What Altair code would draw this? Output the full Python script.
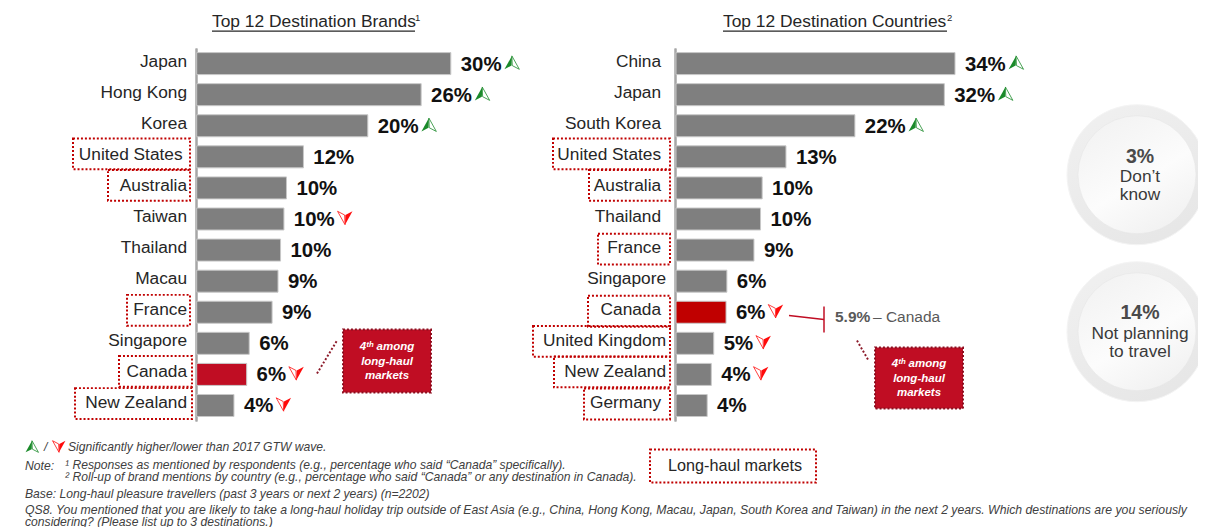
import altair as alt
import pandas as pd

# ---------- data ----------
brand_names = ["Japan", "Hong Kong", "Korea", "United States", "Australia", "Taiwan",
               "Thailand", "Macau", "France", "Singapore", "Canada", "New Zealand"]
brand_values = [30.0, 26.5, 20.2, 12.6, 10.6, 10.3, 9.9, 9.6, 8.9, 6.2, 5.9, 4.4]
brand_labels = ["30%", "26%", "20%", "12%", "10%", "10%", "10%", "9%", "9%", "6%", "6%", "4%"]
brand_trend = ["up", "up", "up", "", "", "down", "", "", "", "", "down", "down"]

country_names = ["China", "Japan", "South Korea", "United States", "Australia", "Thailand",
                 "France", "Singapore", "Canada", "United Kingdom", "New Zealand", "Germany"]
country_values = [34.0, 32.7, 21.8, 13.4, 10.5, 10.3, 9.5, 6.2, 6.1, 4.6, 4.3, 3.8]
country_labels = ["34%", "32%", "22%", "13%", "10%", "10%", "9%", "6%", "6%", "5%", "4%", "4%"]
country_trend = ["up", "up", "up", "", "", "", "", "", "down", "down", "down", ""]

FONT = "Liberation Sans"
GREY = "#7f7f7f"
DOTS = "#c00000"
# The page shrinks an SVG wider than 1190px to fit; K undoes that so that the
# picture reaches the right edge of the window.
K = 1198 / 1190
W, H = 1198, 522.5
layers = []


def PX(v):
    return (v - 8) * K


def PY(v):
    return (v - 9.2) * K


def frame(names, values, labels, trend):
    return pd.DataFrame({"cat": names, "val": values, "lab": labels, "trend": trend})


def note(text, x, y, size=11, color="#404040", align="left", **kw):
    return alt.Chart(alt.Data(values=[{"t": text}])).mark_text(
        font=FONT, fontSize=size * K, color=color, align=align, baseline="middle", **kw
    ).encode(x=alt.value(PX(x)), y=alt.value(PY(y)), text="t:N")


def seg(x1, y1, x2, y2, color, width=1.5, dash=None):
    kw = {"strokeDash": dash} if dash else {}
    return alt.Chart(alt.Data(values=[{"a": 0}])).mark_rule(color=color, strokeWidth=width, **kw).encode(
        x=alt.value(PX(x1)), x2=alt.value(PX(x2)), y=alt.value(PY(y1)), y2=alt.value(PY(y2)))


UP_L = "M0,-0.9L-1,0.9L-0.05,0.4Z"
UP_R = "M0,-0.9L1,0.9L0.05,0.4Z"
DN_R = "M0,0.9L1,-0.9L0.05,-0.4Z"
DN_L = "M0,0.9L-1,-0.9L-0.05,-0.4Z"


def arrow_marks(direction, **kw):
    c = "#1a8a2a" if direction == "up" else "#ff0a0a"
    solid, hollow = (UP_L, UP_R) if direction == "up" else (DN_R, DN_L)
    return (dict(shape=solid, filled=True, color=c, size=225, strokeWidth=0.3, opacity=1, **kw),
            dict(shape=hollow, filled=False, color=c, size=225, strokeWidth=0.8, opacity=1, **kw))


def panel(df, x_domain, x_range, axis_px, boxes, red, groups):
    xs = alt.Scale(domain=x_domain, range=[PX(x_range[0]), PX(x_range[1])])
    ys = alt.Scale(domain=list(df["cat"]), range=[PY(47.5), PY(420.5)], paddingInner=0, paddingOuter=0)
    X = alt.X("val:Q", scale=xs, axis=None)
    Y = alt.Y("cat:N", scale=ys, axis=None)
    base = alt.Chart(df)
    out = []
    # the category axis: two sets of labels that stand at slightly different distances from the line
    for pad, names in groups:
        test = " || ".join(f"datum.label === '{c}'" for c in names)
        out.append(base.mark_bar(size=22 * K, opacity=0).encode(
            x=X,
            y=alt.Y("cat:N", scale=ys, title=None, axis=alt.Axis(
                orient="left", offset=-PX(axis_px), ticks=False, title=None, grid=False,
                domainColor="#a6a6a6", domainWidth=2, labelFont=FONT, labelFontSize=17.3 * K,
                labelColor="#262626", labelPadding=pad, labelOffset=-2, labelLimit=300,
                labelExpr=f"({test}) ? datum.label : ''"))))
    # bars
    out.append(base.mark_bar(size=22 * K, stroke="#c8c8c8", strokeWidth=1).encode(
        x=X, y=Y,
        color=alt.condition("datum.cat === 'Canada'", alt.value(red), alt.value(GREY))))
    # value labels
    out.append(base.mark_text(font=FONT, fontSize=20.4 * K, fontWeight="bold", color="#111111",
                              align="left", baseline="middle", dx=10, dy=1).encode(x=X, y=Y, text="lab:N"))
    # trend arrows
    for direction in ("up", "down"):
        for n_chars, off in ((3, 61.5), (2, 50)):
            test = f"datum.trend === '{direction}' && length(datum.lab) === {n_chars}"
            for kw in arrow_marks(direction, xOffset=off, yOffset=-1):
                out.append(base.transform_filter(test).mark_point(**kw).encode(x=X, y=Y))
    # dotted long-haul boxes
    for cat, left, right, off in boxes:
        out.append(base.transform_filter(f"datum.cat === '{cat}'").mark_bar(
            size=31, yOffset=off, fill="transparent", stroke=DOTS, strokeWidth=2,
            strokeDash=[2, 2]).encode(x=alt.value(PX(left)), x2=alt.value(PX(right)), y=Y))
    return out


brand_far = ["United States"]
country_near = ["Singapore", "United Kingdom", "New Zealand"]
layers += panel(frame(brand_names, brand_values, brand_labels, brand_trend),
                [0, 30], [196.7, 450.8], 196,
                [("United States", 73, 190, -3), ("Australia", 108, 190, -2.5), ("France", 127, 190, -2),
                 ("Canada", 119, 192, -3), ("New Zealand", 75, 192, -2)], "#c00d23",
                [(9.5, [c for c in brand_names if c not in brand_far]), (14, brand_far)])
layers += panel(frame(country_names, country_values, country_labels, country_trend),
                [0, 34], [676, 955], 675,
                [("United States", 553, 670, -3), ("Australia", 589, 670, -2.5), ("France", 598, 670, -1),
                 ("Canada", 588, 670, -1), ("United Kingdom", 533, 670, -2), ("New Zealand", 554, 670, -2.5),
                 ("Germany", 584, 670, -1.5)], "#c00000",
                [(9.5, country_near), (14.5, [c for c in country_names if c not in country_near])])

# titles
layers += [note("Top 12 Destination Brands", 212, 21, size=17.4, color="#262626"),
           note("1", 415, 17, size=9.5, color="#262626"),
           seg(212, 30.5, 415, 30.5, "#262626", 1.2),
           note("Top 12 Destination Countries", 723, 21, size=17.4, color="#262626"),
           note("2", 947, 17, size=9.5, color="#262626"),
           seg(723, 30.5, 947, 30.5, "#262626", 1.2)]


# callouts
def callout(x1, y1, x2, y2, lines, ys, cx):
    box = alt.Chart(alt.Data(values=[{"a": 0}])).mark_rect(
        fill="#c00d23", stroke="#8c0f20", strokeWidth=2, strokeDash=[2, 2]).encode(
        x=alt.value(PX(x1)), x2=alt.value(PX(x2)), y=alt.value(PY(y1)), y2=alt.value(PY(y2)))
    return [box] + [note(t, cx, y, size=11.5, color="#ffffff", align="center",
                         fontWeight="bold", fontStyle="italic") for t, y in zip(lines, ys)]


CALLOUT = ["4ᵗʰ among", "long-haul", "markets"]
layers += callout(343, 329, 431, 392, CALLOUT, [346, 361, 375], 387)
layers += callout(875, 347, 963, 408, CALLOUT, [363, 378, 392], 919)
layers += [seg(317, 373, 337, 340, "#8c1a2a", 2, [2, 2]), seg(857, 340, 868, 359, "#8c1a2a", 2, [2, 2])]

# Canada reference bracket
layers += [seg(789, 315, 824, 319, "#c00d23", 1.5), seg(824, 306, 824, 332, "#c00d23", 1.5),
           note("5.9%", 835, 316, size=15.5, color="#595959", fontWeight="bold"),
           note("– Canada", 873, 316, size=15.5, color="#595959")]

# rings
RING = {"gradient": "linear", "x1": 0.2, "y1": 0, "x2": 0.8, "y2": 1,
        "stops": [{"offset": 0, "color": "#f0f0f0"}, {"offset": 1, "color": "#e6e6e6"}]}
DISC = {"gradient": "linear", "x1": 0.2, "y1": 0, "x2": 0.8, "y2": 1,
        "stops": [{"offset": 0, "color": "#f2f2f2"}, {"offset": 0.55, "color": "#fcfcfc"},
                  {"offset": 1, "color": "#f0f0f0"}]}


def ring(cx, cy):
    d = alt.Data(values=[{"a": 0}])
    pos = dict(x=alt.value(PX(cx)), y=alt.value(PY(cy + 1.2)))
    return [alt.Chart(d).mark_circle(size=(140 * K) ** 2, fill=RING, opacity=1, stroke="#f4f4f4", strokeWidth=1).encode(**pos),
            alt.Chart(d).mark_circle(size=(118 * K) ** 2, fill=DISC, opacity=1, stroke="#e2e2e2", strokeWidth=0.5).encode(**pos)]


layers += ring(1137, 173) + ring(1137, 330)
INK = "#3a3a3a"
layers += [note("3%", 1140, 156, size=19.5, color="#4a4a4a", align="center", fontWeight="bold"),
           note("Don’t", 1140, 176, size=17.3, color=INK, align="center"),
           note("know", 1140, 194, size=17.3, color=INK, align="center"),
           note("14%", 1140, 312, size=19.5, color="#4a4a4a", align="center", fontWeight="bold"),
           note("Not planning", 1140, 333, size=17.3, color=INK, align="center"),
           note("to travel", 1140, 351, size=17.3, color=INK, align="center")]

# footer
legend_row = alt.Data(values=[{"a": 0}])
for direction, cx in (("up", 32), ("down", 59)):
    for kw in arrow_marks(direction):
        kw = {**kw, "size": 169}
        layers.append(alt.Chart(legend_row).mark_point(**kw).encode(x=alt.value(PX(cx)), y=alt.value(PY(446))))

FOOT = 12.15
layers += [note("/", 44, 446, size=FOOT, fontStyle="italic"),
           note("Significantly higher/lower than 2017 GTW wave.", 68, 446, size=FOOT, fontStyle="italic"),
           note("Note:", 25, 465, size=FOOT, fontStyle="italic"),
           note("¹ Responses as mentioned by respondents (e.g., percentage who said “Canada” specifically).", 65, 464, size=FOOT, fontStyle="italic"),
           note("² Roll-up of brand mentions by country (e.g., percentage who said “Canada” or any destination in Canada).", 65, 476, size=FOOT, fontStyle="italic"),
           note("Base: Long-haul pleasure travellers (past 3 years or next 2 years) (n=2202)", 25, 493, size=FOOT, fontStyle="italic"),
           note("QS8. You mentioned that you are likely to take a long-haul holiday trip outside of East Asia (e.g., China, Hong Kong, Macau, Japan, South Korea and Taiwan) in the next 2 years. Which destinations are you seriously", 25, 509, size=12.25, fontStyle="italic"),
           note("considering? (Please list up to 3 destinations.)", 25, 521, size=FOOT, fontStyle="italic")]

# long-haul key
layers.append(alt.Chart(alt.Data(values=[{"a": 0}])).mark_rect(
    fill="transparent", stroke=DOTS, strokeWidth=2, strokeDash=[2, 2]).encode(
    x=alt.value(PX(650)), x2=alt.value(PX(816)), y=alt.value(PY(449)), y2=alt.value(PY(482))))
layers.append(note("Long-haul markets", 668, 465, size=16.2, color="#262626"))

chart = alt.layer(*layers).resolve_scale(x="independent", y="independent", color="independent").properties(
    width=W, height=H, padding=0, autosize=alt.AutoSizeParams(type="none")
).configure_view(stroke=None)

chart.save("out.html", embed_options={"renderer": "svg", "actions": False})
